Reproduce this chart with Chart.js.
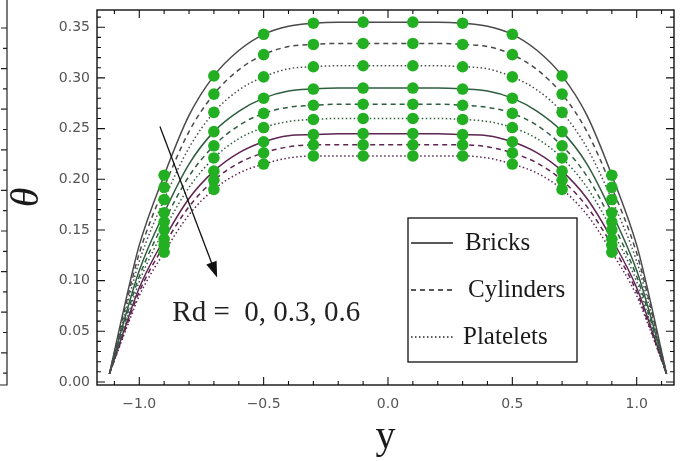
<!DOCTYPE html>
<html><head><meta charset="utf-8">
<script src="https://cdn.jsdelivr.net/npm/chart.js@4"></script>
<style>html,body{margin:0;padding:0;background:#fff}canvas{display:block}</style>
</head><body>
<canvas id="c" width="691" height="461"></canvas>
<script>
// ---- data ----
const xVals = [-1.12,-1.05,-1.0,-0.9,-0.8,-0.7,-0.6,-0.5,-0.4,-0.3,-0.2,-0.1,0,0.1,0.2,0.3,0.4,0.5,0.6,0.7,0.8,0.9,1.0,1.05,1.12];
const bricksRd0    = [0.008,0.085,0.135,0.204,0.263,0.302,0.327,0.343,0.351,0.354,0.355,0.355,0.355,0.355,0.355,0.354,0.351,0.343,0.327,0.302,0.263,0.204,0.135,0.085,0.008];
const cylindersRd0 = [0.008,0.080,0.127,0.192,0.247,0.284,0.308,0.323,0.331,0.333,0.334,0.334,0.334,0.334,0.334,0.333,0.331,0.323,0.308,0.284,0.247,0.192,0.127,0.080,0.008];
const plateletsRd0 = [0.008,0.075,0.119,0.180,0.231,0.266,0.288,0.301,0.309,0.311,0.312,0.312,0.312,0.312,0.312,0.311,0.309,0.301,0.288,0.266,0.231,0.180,0.119,0.075,0.008];
const bricksRd3    = [0.008,0.070,0.110,0.167,0.215,0.247,0.267,0.280,0.287,0.289,0.290,0.290,0.290,0.290,0.290,0.289,0.287,0.280,0.267,0.247,0.215,0.167,0.110,0.070,0.008];
const cylindersRd3 = [0.008,0.066,0.104,0.158,0.203,0.233,0.253,0.265,0.271,0.273,0.274,0.274,0.274,0.274,0.274,0.273,0.271,0.265,0.253,0.233,0.203,0.158,0.104,0.066,0.008];
const plateletsRd3 = [0.008,0.062,0.099,0.150,0.192,0.221,0.240,0.251,0.257,0.259,0.260,0.260,0.260,0.260,0.260,0.259,0.257,0.251,0.240,0.221,0.192,0.150,0.099,0.062,0.008];
const bricksRd6    = [0.008,0.059,0.093,0.141,0.181,0.208,0.226,0.237,0.243,0.244,0.245,0.245,0.245,0.245,0.245,0.244,0.243,0.237,0.226,0.208,0.181,0.141,0.093,0.059,0.008];
const cylindersRd6 = [0.008,0.056,0.089,0.135,0.173,0.199,0.216,0.226,0.232,0.234,0.234,0.234,0.234,0.234,0.234,0.234,0.232,0.226,0.216,0.199,0.173,0.135,0.089,0.056,0.008];
const plateletsRd6 = [0.008,0.054,0.085,0.128,0.165,0.190,0.206,0.215,0.221,0.223,0.223,0.223,0.223,0.223,0.223,0.223,0.221,0.215,0.206,0.190,0.165,0.128,0.085,0.054,0.008];
const markerX = [-0.9,-0.7,-0.5,-0.3,-0.1,0.1,0.3,0.5,0.7,0.9];
const xTickValues = [-1.0,-0.5,0.0,0.5,1.0];
const yTickValues = [0.00,0.05,0.10,0.15,0.20,0.25,0.30,0.35];
const legendLabels = ['Bricks','Cylinders','Platelets'];
const rdLabel = 'Rd =  0, 0.3, 0.6';
const xTitle = 'y';
const yTitle = '\u03b8';
const arrowFrom = {x:-0.917, y:0.252};
const arrowTo = {x:-0.687, y:0.103};
const rdLabelAt = {x:-0.867, y:0.060};

// ---- styles ----
const groupColors = ['#4a4a4a', '#2e5d3f', '#5e2452'];
const dashStyles = [[], [5,4], [1.5,2.5]];
const markerColor = '#22b022';

const curves = [
  [bricksRd0, cylindersRd0, plateletsRd0],
  [bricksRd3, cylindersRd3, plateletsRd3],
  [bricksRd6, cylindersRd6, plateletsRd6]
];

const datasets = [];
const markerPts = [];
curves.forEach((grp, gi) => grp.forEach((ys, si) => {
  datasets.push({
    data: xVals.map((x, i) => ({x, y: ys[i]})),
    showLine: true, borderColor: groupColors[gi], borderWidth: 1.5,
    borderDash: dashStyles[si], pointRadius: 0, pointHoverRadius: 0,
    cubicInterpolationMode: 'monotone', fill: false, order: 1
  });
  markerX.forEach(mx => {
    const i = xVals.findIndex(v => Math.abs(v - mx) < 1e-9);
    markerPts.push({x: mx, y: ys[i]});
  });
}));
datasets.push({data: markerPts, showLine: false, pointRadius: 5.8, pointBackgroundColor: markerColor,
  pointBorderWidth: 0, pointBorderColor: markerColor, order: 0});

const framePlugin = {
  id: 'frame',
  afterDatasetsDraw(chart) {
    const {ctx, chartArea: a, scales: {x, y}} = chart;
    ctx.save();
    // frame
    ctx.strokeStyle = '#111'; ctx.lineWidth = 1.4; ctx.setLineDash([]);
    ctx.strokeRect(a.left, a.top, a.right - a.left, a.bottom - a.top);
    ctx.lineWidth = 1.1;
    ctx.beginPath();
    // x ticks (major 0.5, minor 0.1)
    for (let k = -12; k <= 12; k++) {
      const v = k / 10, px = x.getPixelForValue(v);
      if (px < a.left + 1 || px > a.right - 1) continue;
      const len = (k % 5 === 0) ? 8 : 4;
      ctx.moveTo(px, a.bottom); ctx.lineTo(px, a.bottom - len);
      ctx.moveTo(px, a.top); ctx.lineTo(px, a.top + len);
    }
    // y ticks (major 0.05, minor 0.01)
    for (let k = 0; k <= 36; k++) {
      const v = k / 100, py = y.getPixelForValue(v);
      if (py < a.top + 1 || py > a.bottom) continue;
      const len = (k % 5 === 0) ? 8 : 4;
      ctx.moveTo(a.left, py); ctx.lineTo(a.left + len, py);
      ctx.moveTo(a.right, py); ctx.lineTo(a.right - len, py);
    }
    ctx.stroke();

    // left-edge artifact (adjacent panel frame)
    ctx.strokeStyle = '#222'; ctx.lineWidth = 1.2;
    ctx.beginPath();
    ctx.moveTo(7, 0); ctx.lineTo(7, 385); ctx.lineTo(0, 385);
    for (let py = 28, n = 0; py < 380; py += 20.3, n++) {
      ctx.moveTo(7, py); ctx.lineTo(n % 2 ? 3 : 1, py);
    }
    ctx.stroke();

    // arrow
    const x1 = x.getPixelForValue(arrowFrom.x), y1 = y.getPixelForValue(arrowFrom.y);
    const x2 = x.getPixelForValue(arrowTo.x), y2 = y.getPixelForValue(arrowTo.y);
    const ang = Math.atan2(y2 - y1, x2 - x1);
    ctx.strokeStyle = '#111'; ctx.fillStyle = '#111'; ctx.lineWidth = 1.3;
    ctx.beginPath(); ctx.moveTo(x1, y1);
    ctx.lineTo(x2 - 12 * Math.cos(ang), y2 - 12 * Math.sin(ang)); ctx.stroke();
    ctx.beginPath();
    ctx.moveTo(x2, y2);
    ctx.lineTo(x2 - 16 * Math.cos(ang) + 5.5 * Math.sin(ang), y2 - 16 * Math.sin(ang) - 5.5 * Math.cos(ang));
    ctx.lineTo(x2 - 16 * Math.cos(ang) - 5.5 * Math.sin(ang), y2 - 16 * Math.sin(ang) + 5.5 * Math.cos(ang));
    ctx.closePath(); ctx.fill();

    // Rd label
    ctx.fillStyle = '#222';
    ctx.font = '29px "Liberation Serif"';
    ctx.textBaseline = 'alphabetic'; ctx.textAlign = 'left';
    ctx.fillText(rdLabel, x.getPixelForValue(rdLabelAt.x), y.getPixelForValue(rdLabelAt.y));

    // legend box
    const bx = 408, by = 218, bw = 169, bh = 144;
    ctx.fillStyle = '#fff'; ctx.fillRect(bx, by, bw, bh);
    ctx.strokeStyle = '#111'; ctx.lineWidth = 1.3;
    ctx.strokeRect(bx, by, bw, bh);
    const rowsY = [243, 290, 337];
    const textX = [465, 468, 463];
    ctx.font = '25px "Liberation Serif"';
    ctx.textBaseline = 'middle';
    legendLabels.forEach((lab, i) => {
      ctx.strokeStyle = '#222'; ctx.lineWidth = 1.5;
      ctx.setLineDash(dashStyles[i]);
      ctx.beginPath(); ctx.moveTo(411, rowsY[i]); ctx.lineTo(453, rowsY[i]); ctx.stroke();
      ctx.setLineDash([]);
      ctx.fillStyle = '#1a1a1a';
      ctx.fillText(lab, textX[i], rowsY[i]);
    });
    ctx.restore();
  }
};

new Chart(document.getElementById('c'), {
  type: 'scatter',
  data: {datasets},
  options: {
    responsive: false, animation: false, devicePixelRatio: 1,
    layout: {padding: {top: 10, right: 17, left: 0, bottom: 0}},
    plugins: {legend: {display: false}, tooltip: {enabled: false}},
    scales: {
      x: {
        type: 'linear', min: -1.17, max: 1.15,
        afterBuildTicks: s => { s.ticks = xTickValues.map(v => ({value: v})); },
        afterFit: s => { s.height = 76; s.paddingLeft = 0; s.paddingRight = 0; },
        grid: {display: false, drawTicks: false}, border: {display: false},
        ticks: {autoSkip: false, maxRotation: 0, padding: 11, color: '#555',
          font: {family: 'DejaVu Sans', size: 14},
          callback: v => (v < 0 ? '\u2212' : '') + Math.abs(v).toFixed(1)},
        title: {display: true, text: xTitle, color: '#1a1a1a',
          font: {family: 'Liberation Serif', size: 40}, padding: {top: 1, bottom: 0}}
      },
      y: {
        type: 'linear', min: -0.003, max: 0.367,
        afterBuildTicks: s => { s.ticks = yTickValues.map(v => ({value: v})); },
        afterFit: s => { s.width = 97; s.paddingTop = 0; s.paddingBottom = 0; },
        grid: {display: false, drawTicks: false}, border: {display: false},
        ticks: {autoSkip: false, padding: 7, color: '#555',
          font: {family: 'DejaVu Sans', size: 14},
          callback: v => v.toFixed(2)},
        title: {display: true, text: yTitle, color: '#1a1a1a',
          font: {family: 'Liberation Serif', size: 40, style: 'italic'}, padding: {top: 3, bottom: 0}}
      }
    }
  },
  plugins: [framePlugin]
});
</script>
</body></html>
